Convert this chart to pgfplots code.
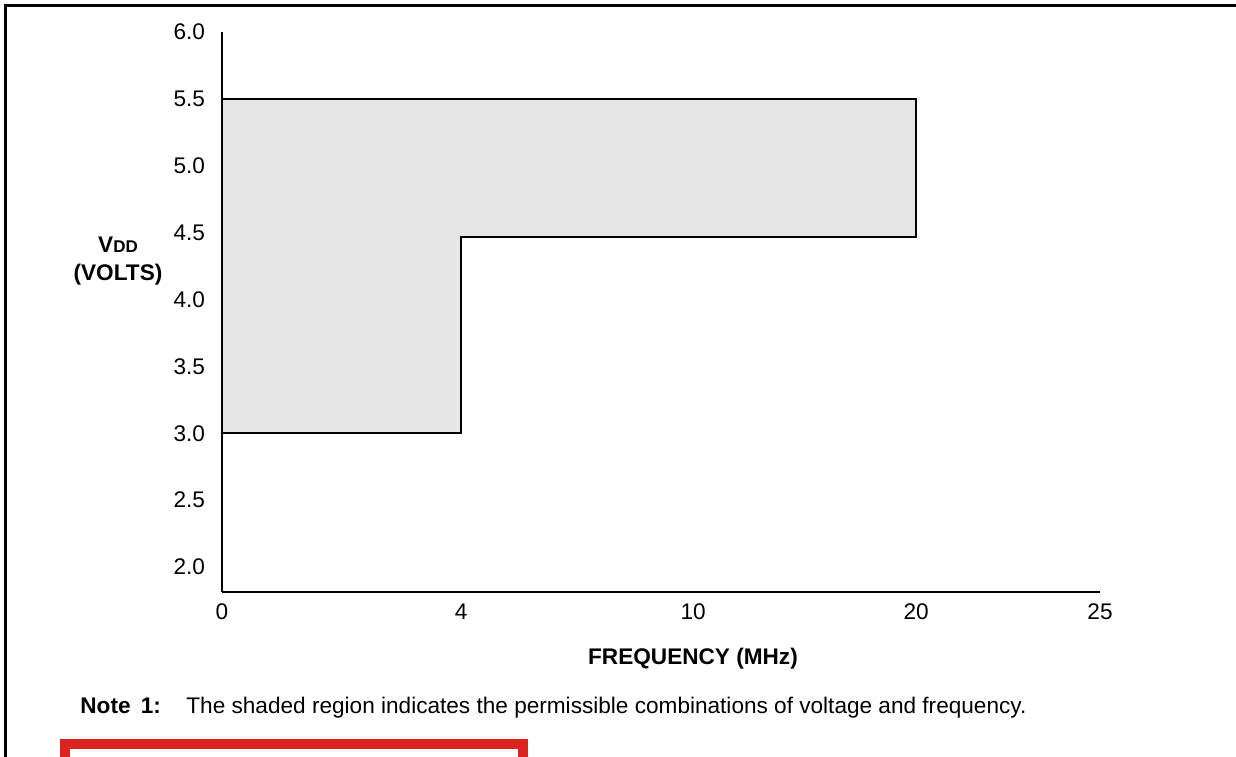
\documentclass[border=0pt]{standalone}
\usepackage{fontspec}
\setmainfont{Liberation Sans}
\usepackage{pgfplots}
\pgfplotsset{compat=1.18}

\definecolor{shade}{RGB}{230,230,230}
\definecolor{boxred}{RGB}{220,36,31}

% frequency ticks are not evenly spaced in the original: 0,4,10,20,25 MHz
% sit at these positions along the axis
\pgfplotstableread{
x    y
0    3.0
1.04 3.0
1.04 4.47
3.02 4.47
3.02 5.5
0    5.5
}\region

\begin{document}
\begin{tikzpicture}[font=\fontsize{11.3}{13.5}\selectfont]
\useasboundingbox (0,0) rectangle (618pt,-378pt);

% page frame and red box
\draw[line width=1.3pt] (2.75pt,-400pt) -- (2.75pt,-2.75pt) -- (640pt,-2.75pt);
\draw[boxred, line width=4.75pt] (32.4pt,-400pt) -- (32.4pt,-371.9pt) -- (261.6pt,-371.9pt) -- (261.6pt,-400pt);

\begin{axis}[
    at={(111pt,-296pt)}, anchor=south west,
    scale only axis,
    width=439pt, height=280pt,
    xmin=0, xmax=3.82,
    ymin=1.813, ymax=6.0,
    axis x line=bottom, axis y line=left,
    axis line style={-, line width=1pt},
    xtick={0,1.04,2.05,3.02,3.82},
    xticklabels={0,4,10,20,25},
    ytick={2.0,2.5,3.0,3.5,4.0,4.5,5.0,5.5,6.0},
    yticklabel={\pgfmathprintnumber[fixed,fixed zerofill,precision=1]{\tick}},
    /pgf/number format/assume math mode=true,
    major tick length=0pt,
    ticklabel style={font=\fontsize{11.3}{13.5}\selectfont},
    yticklabel style={anchor=east, xshift=-5pt},
    xticklabel style={anchor=north, yshift=-2.5pt},
]
\addplot[fill=shade, draw=black, line width=1pt] table {\region} -- cycle;
\end{axis}

% axis titles
\node[anchor=base] at (346.5pt,-332pt) {\bfseries FREQUENCY (MHz)};
\node[anchor=base] at (59pt,-126pt) {\bfseries V{\fontsize{8.5}{10}\selectfont DD}};
\node[anchor=base] at (59pt,-140pt) {\bfseries (VOLTS)};

% note
\node[anchor=base west, inner sep=0pt] at (40pt,-356.5pt) {\bfseries Note\hspace{0.45em}1:};
\node[anchor=base west, inner sep=0pt] at (93pt,-356.5pt) {The shaded region indicates the permissible combinations of voltage and frequency.};
\end{tikzpicture}
\end{document}
